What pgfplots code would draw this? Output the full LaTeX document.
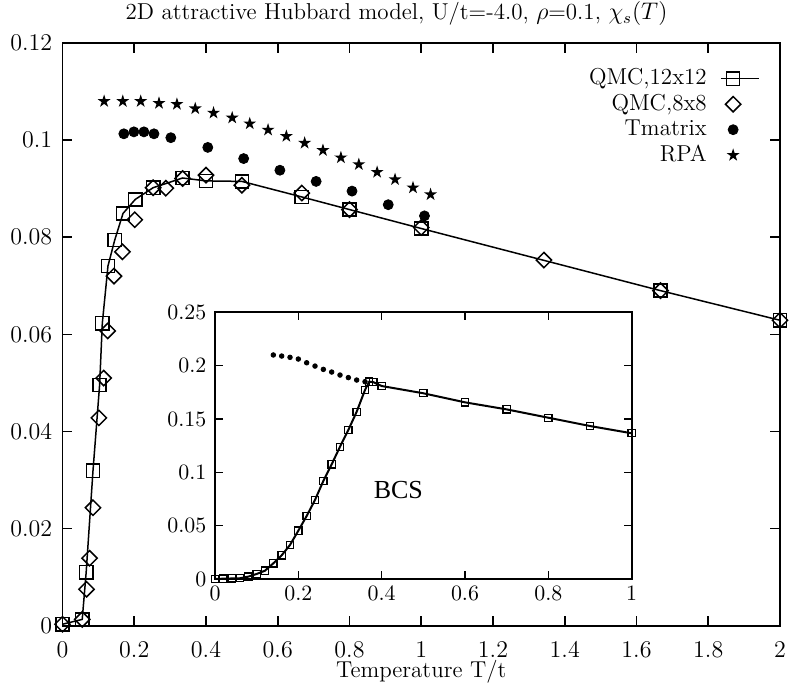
\documentclass[border=0pt]{standalone}
\usepackage{fontspec}
\newfontfamily\timesfont{Liberation Serif}
\usepackage{pgfplots}
\pgfplotsset{compat=1.18}
\pgfdeclareplotmark{fstar}{%
  \pgfpathmoveto{\pgfpointpolar{90}{\pgfplotmarksize}}%
  \pgfpathlineto{\pgfpointpolar{126}{0.38\pgfplotmarksize}}%
  \pgfpathlineto{\pgfpointpolar{162}{\pgfplotmarksize}}%
  \pgfpathlineto{\pgfpointpolar{198}{0.38\pgfplotmarksize}}%
  \pgfpathlineto{\pgfpointpolar{234}{\pgfplotmarksize}}%
  \pgfpathlineto{\pgfpointpolar{270}{0.38\pgfplotmarksize}}%
  \pgfpathlineto{\pgfpointpolar{306}{\pgfplotmarksize}}%
  \pgfpathlineto{\pgfpointpolar{342}{0.38\pgfplotmarksize}}%
  \pgfpathlineto{\pgfpointpolar{18}{\pgfplotmarksize}}%
  \pgfpathlineto{\pgfpointpolar{54}{0.38\pgfplotmarksize}}%
  \pgfpathclose
  \pgfusepathqfill
}
\newcommand{\mainfont}{\fontsize{11.5}{13.8}\selectfont}
\newcommand{\insetfont}{\fontsize{10.5}{12.6}\selectfont}
\begin{document}
\begin{tikzpicture}
\begin{axis}[
  name=main, at={(0,0)}, anchor=south west,
  scale only axis, width=358.75pt, height=291.35pt,
  xmin=0, xmax=2, ymin=0, ymax=0.12,
  xtick={0,0.2,0.4,0.6,0.8,1,1.2,1.4,1.6,1.8,2},
  ytick={0,0.02,0.04,0.06,0.08,0.1,0.12},
  scaled y ticks=false,
  yticklabel style={/pgf/number format/fixed, /pgf/number format/precision=2,
     anchor=east, inner sep=0pt, xshift=-5pt},
  xticklabel style={anchor=base, yshift=-15.85pt},
  tick label style={font=\mainfont},
  label style={font=\mainfont},
  tick align=inside, major tick length=5pt,
  axis line style={line width=0.9pt},
  every tick/.style={black, line width=0.8pt},
  xlabel={Temperature T/t},
  xlabel style={at={(axis description cs:0.5,0)}, anchor=base, yshift=-26pt},
  legend style={draw=none, fill=none, at={(1,1)}, anchor=north east,
     xshift=-10pt, yshift=-12.15pt, inner sep=0pt, row sep=1.75pt,
     column sep=6.7pt, font=\mainfont,
     nodes={inner sep=0pt, text height=8.5pt, text depth=2.5pt}},
  legend cell align=right, legend plot pos=right,
  legend image code/.code={%
     \path (0pt,0pt) (19pt,0pt);
     \draw[#1, mark repeat=2, mark phase=2] plot coordinates {(0pt,0pt) (6.15pt,0pt) (19pt,0pt)};},
]
\addplot[black, line width=0.75pt, mark=square, mark size=3.3pt, mark options={line width=0.75pt, solid}]
coordinates {
(0,0.0003) (0.055,0.0013) (0.066,0.011) (0.085,0.0319) (0.1035,0.0496)
(0.111,0.0623) (0.1268,0.0741) (0.1455,0.0794) (0.1687,0.0849) (0.203,0.0878)
(0.2527,0.0902) (0.3348,0.0922) (0.40,0.0916) (0.5,0.0915) (0.667,0.0883)
(0.8,0.0857) (1.0,0.0818) (1.667,0.0690) (2.0,0.0629)
};
\addlegendentry{QMC,12x12}
\addplot[black, only marks, mark=square, mark size=2.7pt, mark options={rotate=45, line width=0.75pt}]
coordinates {
(0,0.0003) (0.055,0.0013) (0.067,0.0075) (0.0755,0.0139) (0.085,0.0243)
(0.1015,0.0428) (0.1147,0.051) (0.126,0.0607) (0.1435,0.072) (0.167,0.077)
(0.2014,0.0836) (0.2527,0.0902) (0.288,0.0901) (0.3348,0.0921) (0.40,0.0928)
(0.5,0.0907) (0.667,0.0891) (0.8,0.0857) (1.0,0.0820) (1.342,0.0753)
(1.667,0.0690) (2.0,0.0629)
};
\addlegendentry{QMC,8x8}
\addplot[black, only marks, mark=*, mark size=2.5pt]
coordinates {
(0.171,0.1013) (0.199,0.1017) (0.227,0.1017) (0.255,0.1013) (0.302,0.1005)
(0.405,0.0985) (0.505,0.0962) (0.606,0.0938) (0.707,0.0915) (0.807,0.0895)
(0.908,0.0867) (1.009,0.0844)
};
\addlegendentry{Tmatrix}
\addplot[black, only marks, mark=fstar, mark size=3.4pt]
coordinates {
(0.116,0.1080) (0.168,0.1080) (0.218,0.1080) (0.269,0.1076) (0.319,0.1074)
(0.370,0.1065) (0.421,0.1056) (0.473,0.1046) (0.522,0.1034) (0.573,0.1021)
(0.624,0.1008) (0.675,0.0994) (0.726,0.0979) (0.776,0.0964) (0.826,0.0950)
(0.877,0.0934) (0.927,0.0919) (0.977,0.0902) (1.026,0.0888)
};
\addlegendentry{RPA}
\end{axis}
\begin{axis}[
  name=inset, at={(76.25pt,23.35pt)}, anchor=south west,
  scale only axis, width=208.35pt, height=133.35pt,
  xmin=0, xmax=1, ymin=0, ymax=0.25,
  axis background/.style={fill=white},
  xtick={0,0.2,0.4,0.6,0.8,1},
  ytick={0,0.05,0.1,0.15,0.2,0.25},
  scaled y ticks=false,
  yticklabel style={/pgf/number format/fixed, /pgf/number format/precision=2,
     anchor=east, inner sep=0pt, xshift=-4.15pt},
  xticklabel style={anchor=base, yshift=-10.9pt},
  tick label style={font=\insetfont},
  tick align=inside, major tick length=4pt,
  axis line style={line width=0.9pt},
  every tick/.style={black, line width=0.7pt},
]
\addplot[black, line width=1pt, mark=square, mark size=1.8pt, mark options={line width=0.6pt, solid}]
coordinates {
(0,0) (0.02,0.0003) (0.04,0.0005) (0.06,0.0007) (0.08,0.0022) (0.10,0.0047)
(0.12,0.0078) (0.14,0.0147) (0.16,0.0222) (0.18,0.0319) (0.20,0.0453)
(0.22,0.0591) (0.24,0.0741) (0.26,0.0919) (0.28,0.1075) (0.30,0.1240)
(0.32,0.1397) (0.34,0.1568) (0.36,0.1772) (0.37,0.1850) (0.38,0.1845)
(0.40,0.1809) (0.5,0.1741) (0.6,0.1656) (0.7,0.1590) (0.8,0.1512)
(0.9,0.1434) (1.0,0.1366)
};
\addplot[black, only marks, mark=*, mark size=1.15pt]
coordinates {
(0.14,0.2100) (0.16,0.2090) (0.18,0.2078) (0.20,0.2062) (0.22,0.2027)
(0.24,0.1996) (0.26,0.1965) (0.28,0.1940) (0.30,0.1912) (0.32,0.1888)
(0.34,0.1865) (0.36,0.1850)
};
\node[font=\timesfont\fontsize{13}{15}\selectfont] at (axis cs:0.44,0.0834) {BCS};
\end{axis}
\node[font=\mainfont, anchor=base] at (167pt,303.05pt)
  {2D attractive Hubbard model, U/t=-4.0, $\rho$=0.1, $\chi_s(T)$};
\pgfresetboundingbox
\useasboundingbox (-31.25pt,-30.65pt) rectangle (363.25pt,312.85pt);
\end{tikzpicture}
\end{document}
